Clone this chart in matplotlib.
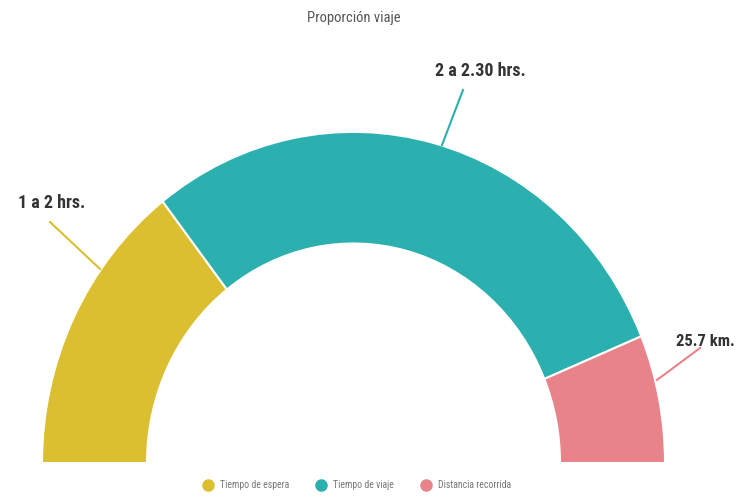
import matplotlib
matplotlib.use("Agg")
import matplotlib.pyplot as plt
from matplotlib.lines import Line2D
from matplotlib import font_manager

categories = ["Tiempo de espera", "Tiempo de viaje", "Distancia recorrida"]
values = [29, 58.5, 12.5]
labels = ["1 a 2 hrs.", "2 a 2.30 hrs.", "25.7 km."]
colors = ["#DCBF30", "#2BAFAF", "#E9838A"]

# pick a narrow font if available
names = {f.name for f in font_manager.fontManager.ttflist}
narrow = None
for cand in ["Roboto Condensed", "Liberation Sans Narrow", "Open Sans Condensed",
             "DejaVu Sans Condensed", "Noto Sans Condensed"]:
    if cand in names:
        narrow = cand
        break
if narrow is None:
    narrow = "DejaVu Sans"

W, H = 739, 500
SY = 1.063          # vertical stretch of the reference
BASE = 463          # pixel row of the baseline of the half ring
fig = plt.figure(figsize=(W / 100, H / 100), dpi=100)
ax = fig.add_axes([0, 0, 1, 1])


def Y(ypix):
    return (BASE - ypix) / SY


cx = 353.5
R = 311.5
total = sum(values)
fracs = [v / (2 * total) for v in values]
wedges, _ = ax.pie(fracs, colors=colors, startangle=180, counterclock=False,
                   center=(cx, 0), radius=R, frame=True, normalize=False,
                   wedgeprops=dict(width=105, edgecolor="white", linewidth=1.5))
ax.set_aspect("auto")
ax.set_xlim(0, W)
ax.set_ylim(Y(H), Y(0))
ax.axis("off")

# leader lines and labels (pixel positions from top)
lines = [((50, 222), (100, 269)), ((463, 90), (442, 145)), ((700, 348), (657, 380))]
texts = [(18, 203), (435, 71), (676, 341)]
sizes = [13, 13, 12]
for (p1, p2), tp, lab, col, fs in zip(lines, texts, labels, colors, sizes):
    ax.plot([p1[0], p2[0]], [Y(p1[1]), Y(p2[1])], color=col, lw=1.5)
    ax.text(tp[0], Y(tp[1]), lab, ha="left", va="center", fontsize=fs,
            color="#333333", fontweight="bold", family=narrow)

ax.text(cx, Y(18), "Proporción viaje", ha="center", va="center",
        fontsize=10.5, color="#555555", family=narrow)

handles = [Line2D([0], [0], marker="o", linestyle="", markersize=8,
                  markerfacecolor=c, markeredgecolor=c) for c in colors]
fig.legend(handles, categories, loc="center", bbox_to_anchor=(0.48, 1 - 485 / H),
           ncol=3, frameon=False, labelcolor="#777777",
           handletextpad=0.2, columnspacing=2.3, prop=dict(family=narrow, size=7))

fig.savefig("out.png", dpi=100, facecolor="white")
